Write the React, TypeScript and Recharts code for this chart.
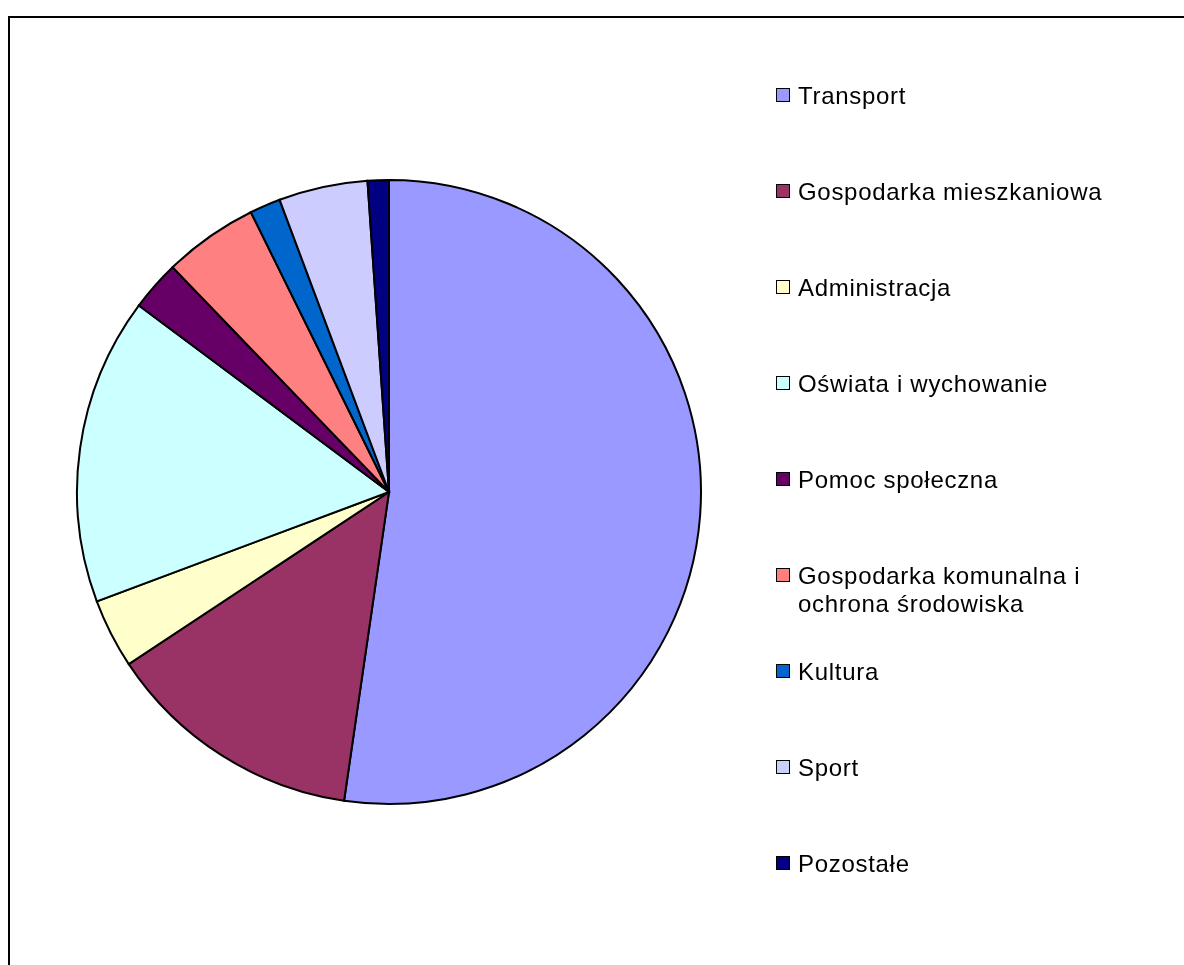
import React from "react";
import { PieChart, Pie, Cell, Legend } from "recharts";

const categories = [
  "Transport",
  "Gospodarka mieszkaniowa",
  "Administracja",
  "Oświata i wychowanie",
  "Pomoc społeczna",
  "Gospodarka komunalna i ochrona środowiska",
  "Kultura",
  "Sport",
  "Pozostałe",
];
const legendLines = [
  ["Transport"],
  ["Gospodarka mieszkaniowa"],
  ["Administracja"],
  ["Oświata i wychowanie"],
  ["Pomoc społeczna"],
  ["Gospodarka komunalna i", "ochrona środowiska"],
  ["Kultura"],
  ["Sport"],
  ["Pozostałe"],
];
const values = [52.3, 13.4, 3.6, 15.9, 2.6, 4.9, 1.6, 4.6, 1.1];
const colors = [
  "#9999FF",
  "#993366",
  "#FFFFCC",
  "#CCFFFF",
  "#660066",
  "#FF8080",
  "#0066CC",
  "#CCCCFF",
  "#000080",
];

const data = categories.map((name, i) => ({ name, value: values[i] }));

const renderLegend = () => (
  <div style={{ position: "relative", width: 390, height: 860 }}>
    {legendLines.map((lines, i) => (
      <div
        key={i}
        style={{
          position: "absolute",
          left: 0,
          top: i * 96 - 8,
          display: "flex",
          alignItems: "flex-start",
        }}
      >
        <div
          style={{
            width: 12,
            height: 12,
            flex: "none",
            background: colors[i],
            border: "1px solid #000",
          }}
        />
        <div
          style={{
            marginLeft: 8,
            marginTop: -6,
            fontFamily: "Arial, 'Liberation Sans', sans-serif",
            fontSize: 24,
            letterSpacing: 0.7,
            lineHeight: "28px",
            color: "#000",
            whiteSpace: "nowrap",
          }}
        >
          {lines.map((l, j) => (
            <div key={j}>{l}</div>
          ))}
        </div>
      </div>
    ))}
  </div>
);

export default function App() {
  return (
    <div style={{ position: "relative", width: 1168, height: 949, overflow: "hidden" }}>
      <div
        style={{
          position: "fixed",
          left: 8,
          top: 16,
          width: 2000,
          height: 2000,
          border: "2px solid #000",
          boxSizing: "border-box",
          pointerEvents: "none",
        }}
      />
      <div style={{ position: "absolute", left: 0, top: 0 }}>
        <PieChart width={1168} height={949} margin={{ top: 0, right: 0, bottom: 0, left: 0 }}>
          <Pie
            data={data}
            dataKey="value"
            nameKey="name"
            cx={381}
            cy={484}
            outerRadius={312}
            startAngle={90}
            endAngle={-270}
            stroke="#000"
            strokeWidth={2}
            isAnimationActive={false}
          >
            {data.map((d, i) => (
              <Cell key={d.name} fill={colors[i]} />
            ))}
          </Pie>
          <Legend
            content={renderLegend}
            layout="vertical"
            wrapperStyle={{ position: "absolute", left: 768, top: 88, width: 390, height: 860 }}
          />
        </PieChart>
      </div>
    </div>
  );
}
